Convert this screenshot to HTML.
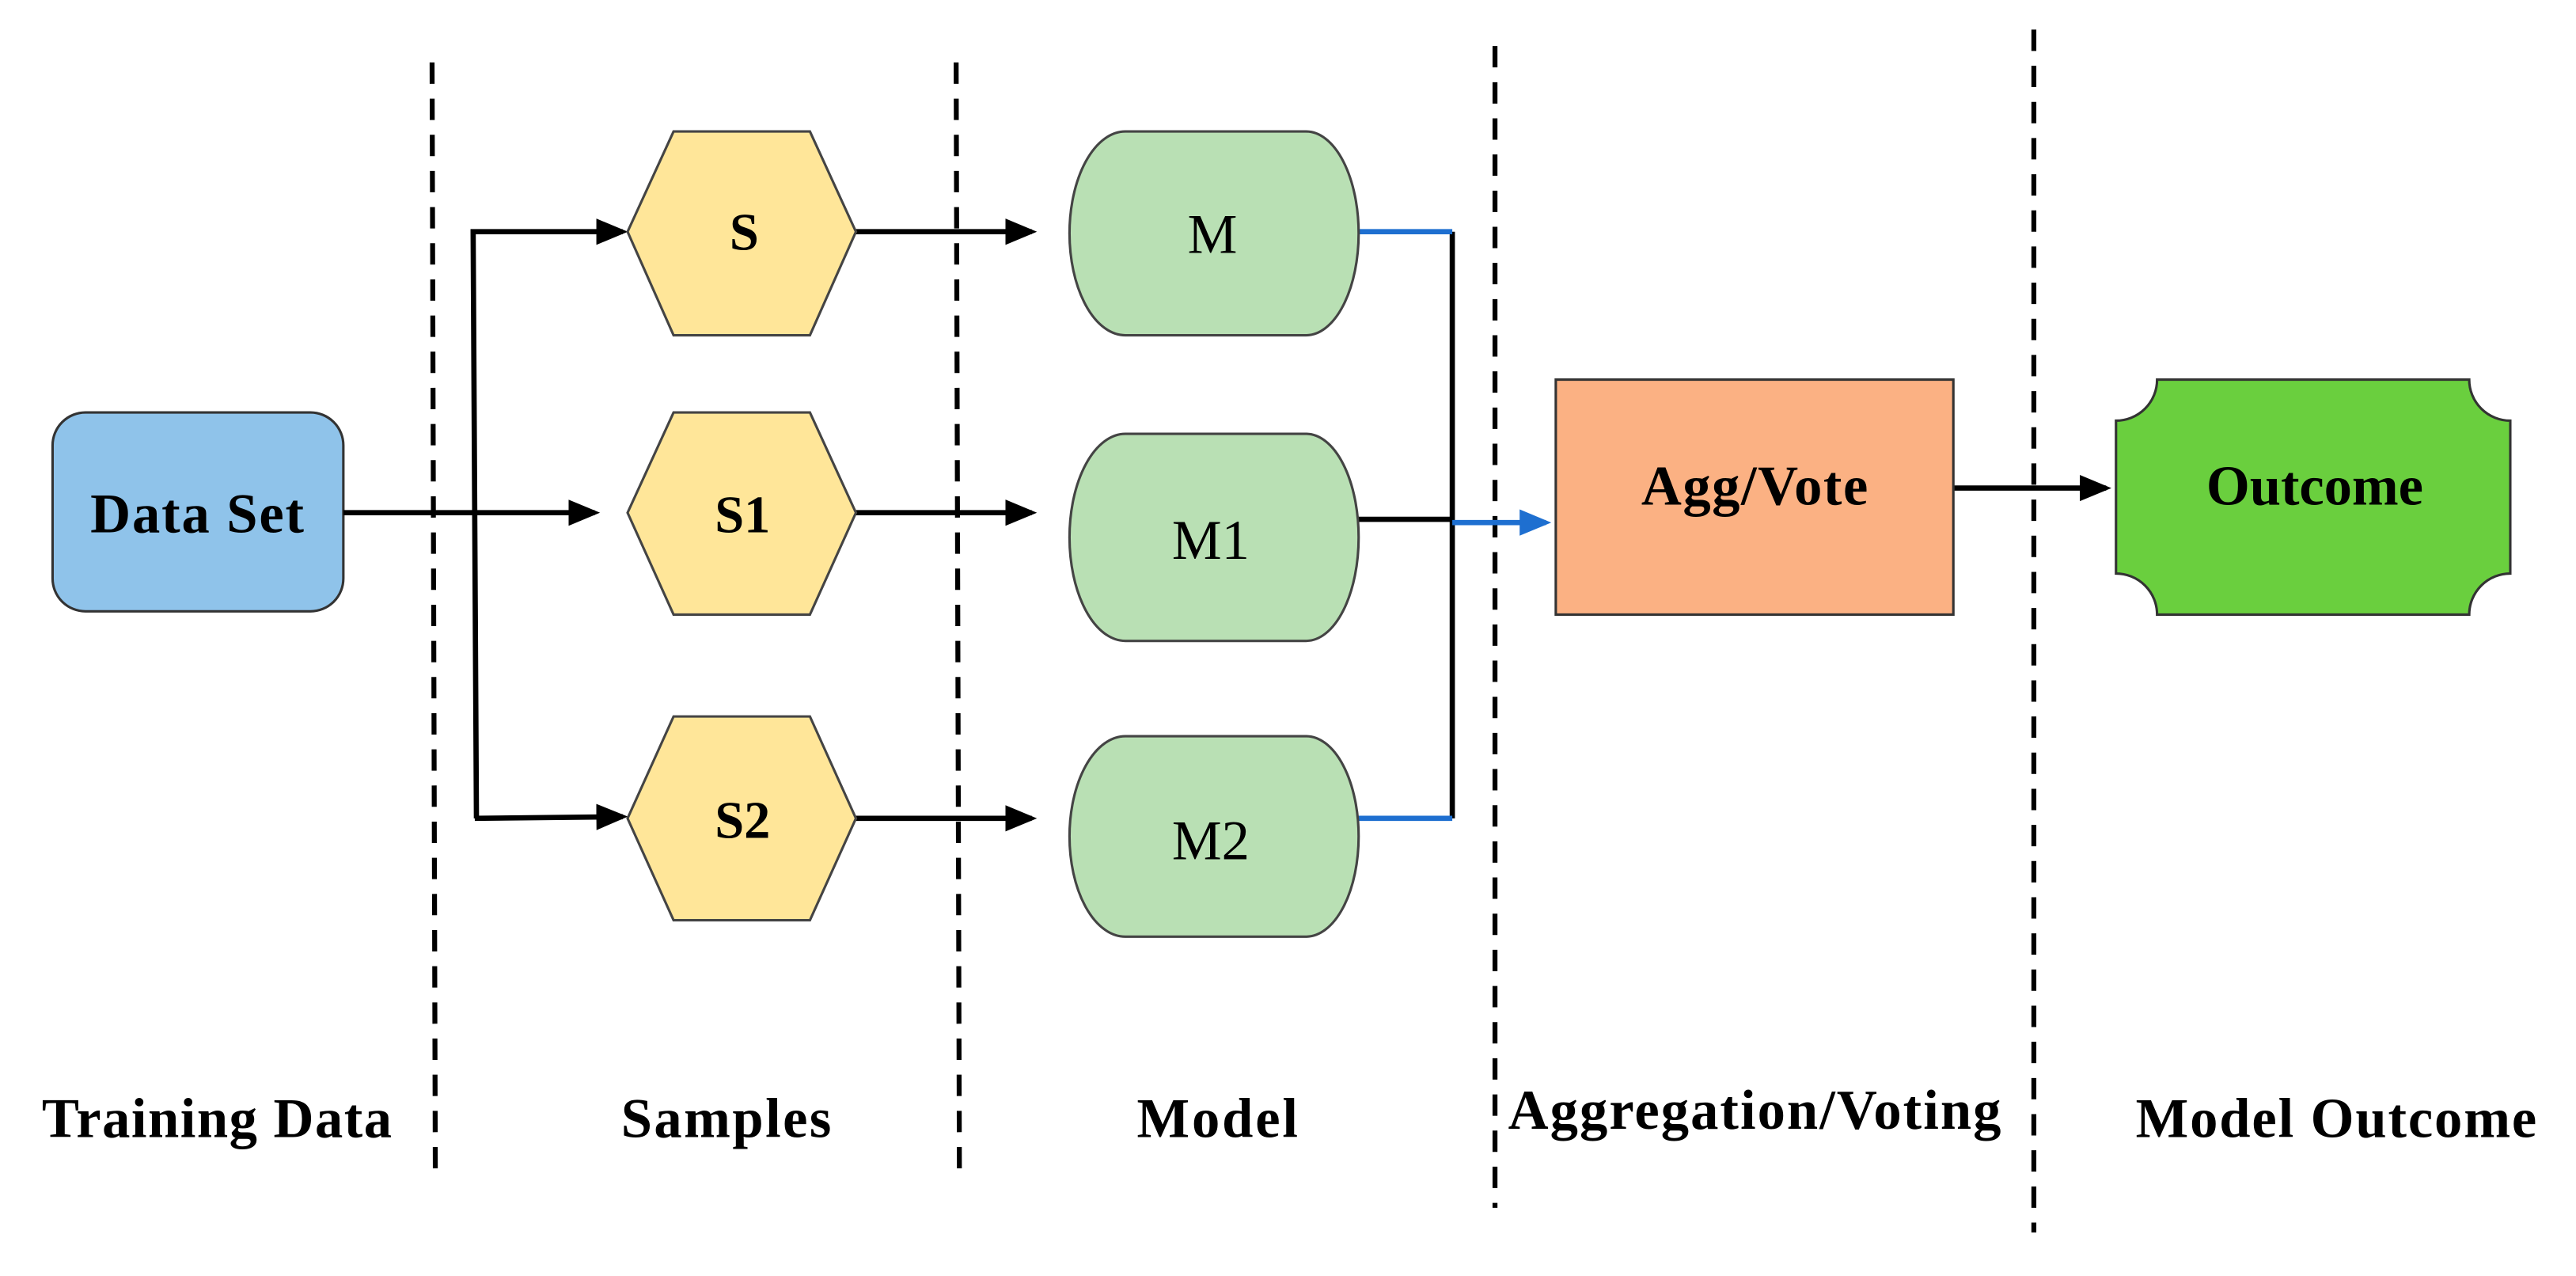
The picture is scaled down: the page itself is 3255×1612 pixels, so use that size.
<!DOCTYPE html>
<html><head><meta charset="utf-8"><style>html,body{margin:0;padding:0;background:#fff}svg{display:block}</style></head>
<body>
<svg width="3255" height="1612" viewBox="0 0 1568 776.5" xmlns="http://www.w3.org/2000/svg" font-family="Liberation Serif, serif">
<defs>
<marker id="ab" markerWidth="6" markerHeight="6" refX="5" refY="3" orient="auto" markerUnits="strokeWidth"><path d="M0,0.5 L6,3 L0,5.5 Z" fill="#000"/></marker>
<marker id="bb" markerWidth="6" markerHeight="6" refX="5" refY="3" orient="auto" markerUnits="strokeWidth"><path d="M0,0.5 L6,3 L0,5.5 Z" fill="#1e6fd0"/></marker>
</defs>
<g stroke="#000" stroke-width="3" stroke-dasharray="13,9" fill="none">
<line x1="263" y1="38" x2="265" y2="720"/>
<line x1="582" y1="38" x2="584" y2="720"/>
<line x1="910" y1="28" x2="910" y2="735"/>
<line x1="1238" y1="18" x2="1238" y2="750"/>
</g>
<rect x="32" y="251" width="177" height="121" rx="20" fill="#8fc3ea" stroke="#333" stroke-width="1.5"/>
<text x="120" y="324" font-size="34" font-weight="bold" text-anchor="middle" textLength="130">Data Set</text>
<g stroke="#000" stroke-width="3.2" fill="none">
<line x1="209" y1="312" x2="362" y2="312" marker-end="url(#ab)"/>
<polyline points="290,498 288,141 379,141" marker-end="url(#ab)"/>
<line x1="289" y1="498" x2="379" y2="497" marker-end="url(#ab)"/>
<line x1="521" y1="141" x2="628" y2="141" marker-end="url(#ab)"/>
<line x1="521" y1="312" x2="628" y2="312" marker-end="url(#ab)"/>
<line x1="521" y1="498" x2="628" y2="498" marker-end="url(#ab)"/>
<line x1="884" y1="141" x2="884" y2="498"/>
<line x1="823" y1="316" x2="884" y2="316"/>
<line x1="1189" y1="297" x2="1282" y2="297" marker-end="url(#ab)"/>
</g>
<g stroke="#1e6fd0" stroke-width="3.2" fill="none">
<line x1="826" y1="141" x2="884" y2="141"/>
<line x1="826" y1="498" x2="884" y2="498"/>
<line x1="884" y1="318" x2="941" y2="318" marker-end="url(#bb)"/>
</g>
<g fill="#ffe699" stroke="#444" stroke-width="1.5">
<polygon points="382,141 410,80 493,80 521,141 493,204 410,204"/>
<polygon points="382,312 410,251 493,251 521,312 493,374 410,374"/>
<polygon points="382,498 410,436 493,436 521,498 493,560 410,560"/>
</g>
<g font-size="32" font-weight="bold" text-anchor="middle">
<text x="453" y="152">S</text><text x="452" y="324">S1</text><text x="452" y="510">S2</text>
</g>
<g fill="#b9e0b4" stroke="#444" stroke-width="1.5">
<path d="M685,80 H795 A32,62 0 0 1 795,204 H685 A34,62 0 0 1 685,80 Z"/>
<path d="M685,264 H795 A32,63 0 0 1 795,390 H685 A34,63 0 0 1 685,264 Z"/>
<path d="M685,448 H795 A32,61 0 0 1 795,570 H685 A34,61 0 0 1 685,448 Z"/>
</g>
<g font-size="34" text-anchor="middle">
<text x="738" y="154">M</text><text x="737" y="340">M1</text><text x="737" y="523">M2</text>
</g>
<rect x="947" y="231" width="242" height="143" fill="#fbb183" stroke="#333" stroke-width="1.5"/>
<text x="1068" y="307" font-size="34" font-weight="bold" text-anchor="middle" textLength="138">Agg/Vote</text>
<path d="M1313,231 H1503 A25,25 0 0 0 1528,256 V349 A25,25 0 0 0 1503,374 H1313 A25,25 0 0 0 1288,349 V256 A25,25 0 0 0 1313,231 Z" fill="#6acf3e" stroke="#333" stroke-width="1.5"/>
<text x="1409" y="307" font-size="34" font-weight="bold" text-anchor="middle" textLength="132">Outcome</text>
<g font-size="34" font-weight="bold" text-anchor="middle">
<text x="132" y="692" textLength="213">Training Data</text>
<text x="442" y="692" textLength="128">Samples</text>
<text x="741" y="692" textLength="98">Model</text>
<text x="1068" y="687" textLength="300">Aggregation/Voting</text>
<text x="1422" y="692" textLength="244">Model Outcome</text>
</g>
</svg>
</body></html>
